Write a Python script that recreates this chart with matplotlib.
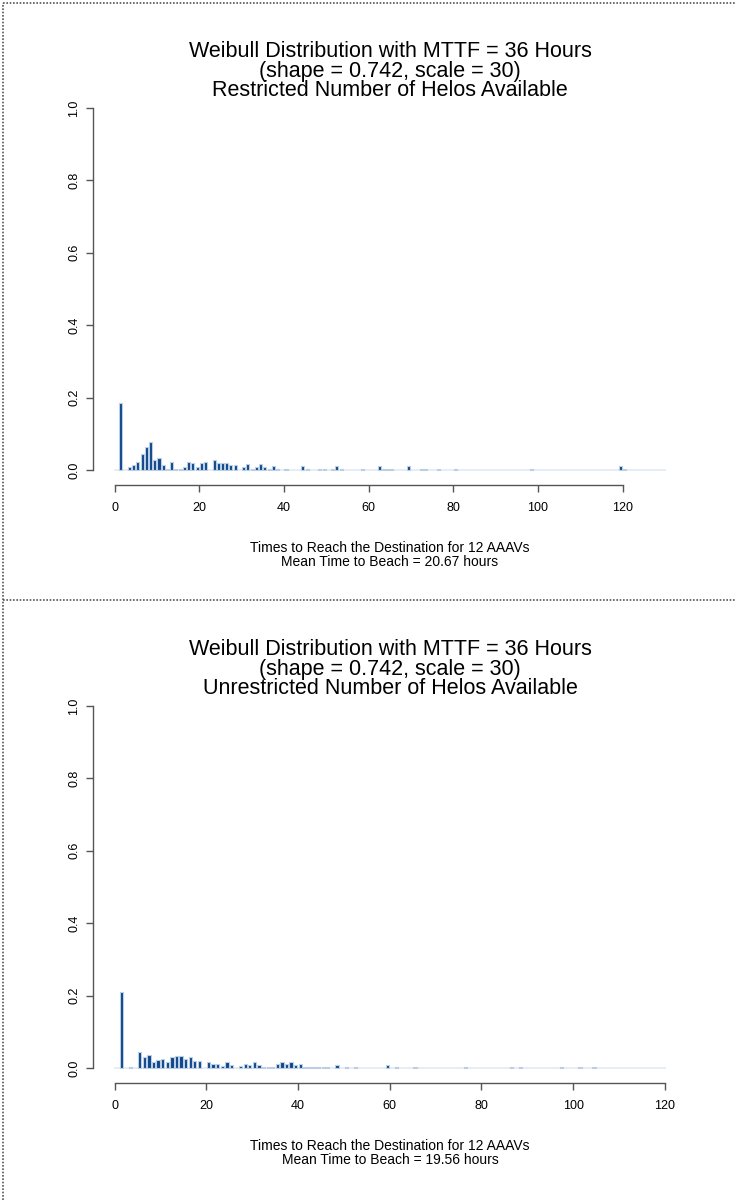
import numpy as np
import matplotlib.pyplot as plt
from matplotlib.lines import Line2D

plt.rcParams['font.family'] = ['Liberation Sans', 'DejaVu Sans']

# Restricted number of helos (top panel)
top_times = [1.5, 3.5, 4.5, 5.5, 6.5, 7.5, 8.5, 9.5, 10.5, 11.5, 12.5, 13.5, 14.5,
             15.5, 16.5, 17.5, 18.5, 19.5, 20.5, 21.5, 23.5, 24.5, 25.5, 26.5, 27.5,
             28.5, 30.5, 31.5, 32.5, 33.5, 34.5, 35.5, 36.5, 37.5, 38.5, 40.5, 44.5,
             45.5, 48.5, 49.5, 51.5, 52.5, 53.5, 58.5, 62.5, 63.5, 64.5, 65.5, 69.5,
             72.5, 73.5, 76.5, 80.5, 98.5, 119.5, 120.5]
top_freq = [0.184, 0.008, 0.013, 0.023, 0.043, 0.063, 0.077, 0.028, 0.033, 0.013,
            0.004, 0.022, 0.003, 0.003, 0.008, 0.022, 0.020, 0.007, 0.019, 0.022,
            0.028, 0.020, 0.020, 0.020, 0.013, 0.013, 0.008, 0.018, 0.004, 0.009,
            0.018, 0.009, 0.004, 0.010, 0.004, 0.003, 0.010, 0.003, 0.003, 0.003,
            0.003, 0.010, 0.003, 0.003, 0.010, 0.003, 0.003, 0.003, 0.010, 0.003,
            0.003, 0.003, 0.003, 0.003, 0.010, 0.003]

# Unrestricted number of helos (bottom panel)
bot_times = [1.5, 3.5, 5.5, 6.5, 7.5, 8.5, 9.5, 10.5, 11.5, 12.5, 13.5, 14.5, 15.5,
             16.5, 17.5, 18.5, 20.5, 21.5, 22.5, 23.5, 24.5, 25.5, 27.5, 28.5, 29.5,
             30.5, 31.5, 32.5, 33.5, 34.5, 35.5, 36.5, 37.5, 38.5, 39.5, 40.5, 41.5,
             42.5, 43.5, 44.5, 45.5, 46.5, 48.5, 50.5, 52.5, 59.5, 61.5, 65.5, 76.5,
             86.5, 88.5, 97.5, 101.5, 104.5]
bot_freq = [0.210, 0.004, 0.043, 0.030, 0.036, 0.018, 0.022, 0.024, 0.018, 0.030,
            0.034, 0.033, 0.026, 0.030, 0.020, 0.020, 0.018, 0.012, 0.012, 0.005,
            0.016, 0.008, 0.005, 0.012, 0.008, 0.018, 0.008, 0.004, 0.004, 0.004,
            0.010, 0.016, 0.010, 0.016, 0.008, 0.010, 0.003, 0.003, 0.003, 0.003,
            0.003, 0.003, 0.008, 0.003, 0.003, 0.008, 0.003, 0.003, 0.003, 0.003,
            0.003, 0.003, 0.003, 0.003]

title_lines = ["Weibull Distribution with MTTF = 36 Hours",
               "(shape = 0.742, scale = 30)"]
subtitles = ["Restricted Number of Helos Available",
             "Unrestricted Number of Helos Available"]
xlabel_top = "Times to Reach the Destination for 12 AAAVs"
means = [20.67, 19.56]
xmaxes = [130, 120]

fig = plt.figure(figsize=(7.35, 12), dpi=100)
W, H = 735, 1200

panels = [(top_times, top_freq), (bot_times, bot_freq)]
for i, (times, freq) in enumerate(panels):
    off = 598 * i
    y_top, y_bot = 93.5 + off, 484.5 + off
    ax = fig.add_axes([92.5 / W, 1 - y_bot / H, (687 - 92.5) / W, (y_bot - y_top) / H])
    xmax = xmaxes[i]
    pad = 0.04 * xmax
    ax.set_xlim(-pad, xmax + pad)
    ax.set_ylim(-0.04, 1.04)

    # faint baseline from the empty bins
    ax.plot([0, xmax], [0, 0], color='#e3eaf2', lw=1.2, zorder=1)
    ax.bar(times, freq, width=0.72, color='#0d468a', edgecolor='#bccfe4',
           linewidth=0.8, zorder=2)

    for s in ['top', 'right']:
        ax.spines[s].set_visible(False)
    ax.spines['left'].set_bounds(0, 1)
    ax.spines['bottom'].set_bounds(0, 120)
    for s in ['left', 'bottom']:
        ax.spines[s].set_color('#555555')
        ax.spines[s].set_linewidth(1.0)

    ax.set_xticks(np.arange(0, 121, 20))
    ax.set_yticks(np.arange(0, 1.01, 0.2))
    ax.set_yticklabels(["%.1f" % v for v in np.arange(0, 1.01, 0.2)],
                       rotation=90, va='center')
    ax.tick_params(axis='both', direction='out', length=5, width=1.0,
                   color='#555555', labelsize=9)
    ax.tick_params(axis='x', pad=7.5)
    ax.tick_params(axis='y', pad=4)

    # title, three tight lines
    for k, line in enumerate(title_lines + [subtitles[i]]):
        yb = 57 + 19.5 * k + off
        fig.text(390 / W, 1 - yb / H, line, ha='center', va='baseline',
                 fontsize=15.5)

    # x label, two lines
    xl = [xlabel_top, "Mean Time to Beach = %.2f hours" % means[i]]
    for k, line in enumerate(xl):
        yb = 552 + 14 * k + off
        fig.text(390 / W, 1 - yb / H, line, ha='center', va='baseline',
                 fontsize=10)

# dotted frame lines
dots = dict(color='#555555', lw=1.2, linestyle=(0, (1, 1)))
fig.add_artist(Line2D([3 / W, 3 / W], [0, 1 - 3 / H], transform=fig.transFigure, **dots))
fig.add_artist(Line2D([3 / W, 1], [1 - 3 / H, 1 - 3 / H], transform=fig.transFigure, **dots))
fig.add_artist(Line2D([3 / W, 1], [1 - 600 / H, 1 - 600 / H], transform=fig.transFigure, **dots))

fig.savefig('out.png', dpi=100)
